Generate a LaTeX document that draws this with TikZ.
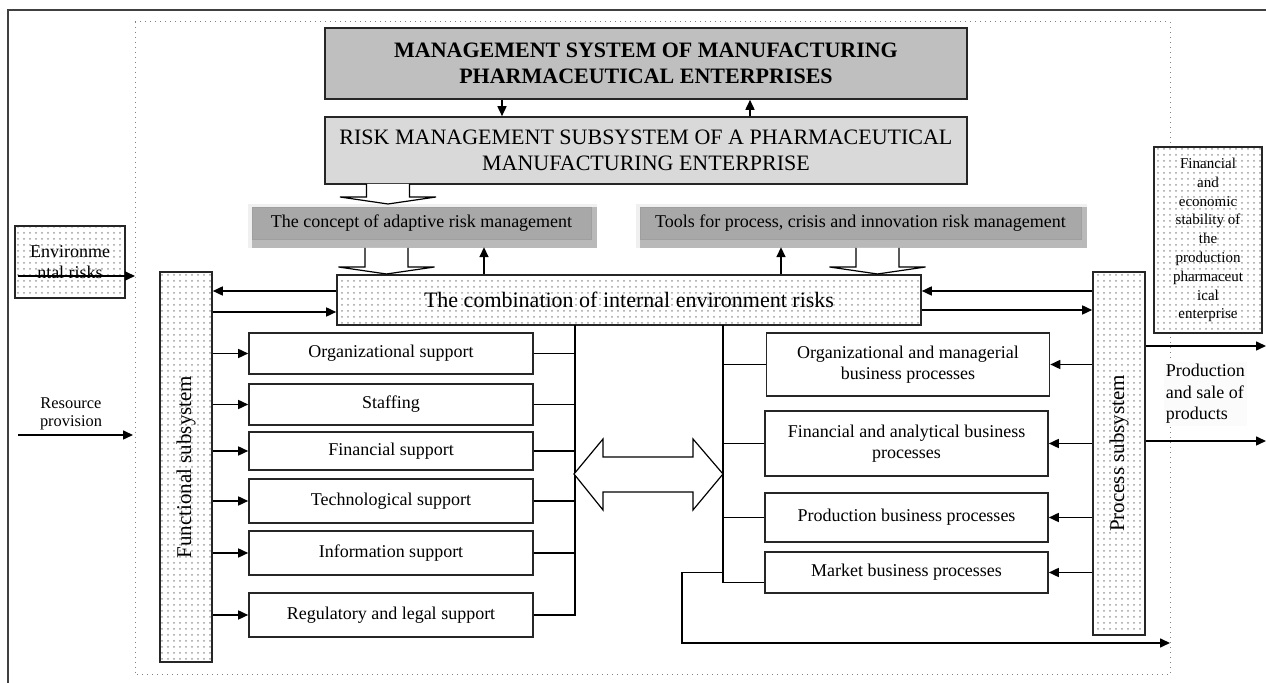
\documentclass[tikz,border=0pt]{standalone}
\usepackage{fontspec}
\setmainfont{Liberation Serif}
\usetikzlibrary{arrows.meta,patterns,backgrounds}

\tikzset{
  pics/blockdown/.style={code={
    \draw[fill=white,line width=.6pt] (-21.5,0) -- (-21.5,#1) -- (-48,#1) -- (0,#1+7)
      -- (48,#1) -- (21.5,#1) -- (21.5,0);
  }}
}

\begin{document}
\begin{tikzpicture}[x=.5pt,y=-.5pt,>={Triangle[length=5pt,width=4.5pt]},line width=.8pt,
  box/.style={draw=black!85,line width=.8pt,inner sep=0pt,align=center},
  headbox/.style={box,minimum width=321pt,font=\fontsize{11}{13}\selectfont},
  toolbox/.style={draw=gray!75,line width=.4pt,fill=gray!68,inner sep=0pt,minimum height=16pt,
    font=\fontsize{9}{10.5}\selectfont},
  dotbox/.style={box,preaction={fill=white},pattern=dots,pattern color=gray!75},
  supbox/.style={box,minimum width=142pt,font=\fontsize{9}{10.5}\selectfont},
  procbox/.style={box,minimum width=141.5pt,font=\fontsize{9}{10.5}\selectfont},
  subsys/.style={dotbox,minimum width=26pt,font=\fontsize{10.5}{12}\selectfont}]
\useasboundingbox (0,0) rectangle (1266,683);

% frames
\draw[black!75,line width=.8pt] (8,683) -- (8,10) -- (1266,10);
\draw[gray,dotted,line width=.5pt] (135,22) rectangle (1170,675);

% management levels
\node[headbox,fill=gray!50,minimum height=35.5pt,font=\fontsize{11}{13}\selectfont\bfseries] (mgmt) at (646,63.5)
  {MANAGEMENT SYSTEM OF MANUFACTURING\\PHARMACEUTICAL ENTERPRISES};
\node[headbox,fill=gray!30,minimum height=33.5pt] (risk) at (646,150.5)
  {RISK MANAGEMENT SUBSYSTEM OF A PHARMACEUTICAL\\MANUFACTURING ENTERPRISE};
\draw[->] ([xshift=-72pt]mgmt.south) -- ([xshift=-72pt]risk.north);
\draw[->] ([xshift=52pt]risk.north) -- ([xshift=52pt]mgmt.south);

\node[toolbox,minimum width=169.5pt] (concept) at (421.5,223) {The concept of adaptive risk management};
\node[toolbox,minimum width=220.5pt] (tools) at (860.5,223) {Tools for process, crisis and innovation risk management};
\begin{scope}[on background layer]
\foreach \b in {concept,tools} {
  \fill[gray!12] ([shift={(-4,-3)}]\b.north west) rectangle ([shift={(6,9)}]\b.south east);
  \fill[gray!55] (\b.south west) rectangle ([shift={(6,9)}]\b.south east);
  \fill[gray!55] (\b.north east) rectangle ([shift={(6,9)}]\b.south east);
}
\end{scope}

\node[dotbox,minimum width=292pt,minimum height=25pt,font=\fontsize{11}{13}\selectfont] (comb) at (629,300)
  {The combination of internal environment risks};

% block arrows
\pic at (388,184) {blockdown=13};
\pic at (386.5,248) {blockdown=19};
\pic at (877.5,248) {blockdown=19};
\draw[->] ([xshift=-72.5pt]comb.north) -- ++(0,-27);
\draw[->] ([xshift=76pt]comb.north) -- ++(0,-27);

% subsystems
\node[subsys,minimum height=195pt] (func) at (186,467) {\rotatebox{90}{Functional subsystem}};
\node[subsys,minimum height=181.5pt] (proc) at (1119,453.5) {\rotatebox{90}{Process subsystem}};

\coordinate (cl1) at ([yshift=4.5pt]comb.west);
\coordinate (cl2) at ([yshift=-6pt]comb.west);
\coordinate (cr1) at ([yshift=4.5pt]comb.east);
\coordinate (cr2) at ([yshift=-5pt]comb.east);
\draw[->] (cl1) -- (cl1 -| func.east);
\draw[->] (cl2 -| func.east) -- (cl2);
\draw[->] (cr1 -| proc.west) -- (cr1);
\draw[->] (cr2) -- (cr2 -| proc.west);

% functional support
\node[supbox,minimum height=20.5pt] (org) at (391,353.5) {Organizational support};
\node[supbox,minimum height=20.5pt] (staff) at (391,404.5) {Staffing};
\node[supbox,minimum height=19pt] (fin) at (391,451) {Financial support};
\node[supbox,minimum height=22pt] (tech) at (391,501) {Technological support};
\node[supbox,minimum height=22pt] (info) at (391,553) {Information support};
\node[supbox,minimum height=22pt] (reg) at (391,615) {Regulatory and legal support};

\coordinate (lbus) at (575,325);
\foreach \n in {org,staff,fin,tech,info,reg}
  \draw[->] (func.east |- \n.west) -- (\n.west);
\foreach \n in {org,staff,fin,tech,info}
  \draw (\n.east) -- (\n.east -| lbus);
\draw (lbus) |- (reg.east);

% business processes
\node[procbox,minimum height=31.5pt] (orgman) at (908,364.5) {Organizational and managerial\\business processes};
\node[procbox,minimum height=32.5pt] (finan) at (906.5,443.5) {Financial and analytical business\\processes};
\node[procbox,minimum height=24.5pt] (prod) at (906.5,517.5) {Production business processes};
\node[procbox,minimum height=20.5pt] (mkt) at (906.5,572.5) {Market business processes};

\coordinate (rbus) at (723,325);
\foreach \n in {orgman,finan,prod,mkt}
  \draw[->] (proc.west |- \n.east) -- (\n.east);
\foreach \n in {orgman,finan,prod}
  \draw (\n.west) -- (\n.west -| rbus);
\draw (rbus) |- ([yshift=-5pt]mkt.west);

\draw[fill=white,line width=.6pt] (574,474) -- (603,439) -- (603,457) -- (693,457) -- (693,439) -- (723,474)
  -- (693,510) -- (693,492) -- (603,492) -- (603,510) -- cycle;

\coordinate (fbturn) at (682,643);
\coordinate (fbout) at (1170,643);
\draw[->] (mkt.west -| rbus) -| (fbturn) -- (fbout);

% environment
\node[dotbox,minimum width=55pt,minimum height=36pt,font=\fontsize{9}{10.5}\selectfont] (env) at (70,262)
  {Environme\\ntal risks};
\coordinate (envin) at (18,276);
\coordinate (envout) at (135,276);
\draw[->] (envin) -- (envout);

\node[align=center,font=\fontsize{8.2}{9}\selectfont] (res) at (71,414) {Resource\\provision};
\coordinate (resin) at (18,435);
\coordinate (resout) at (133,435);
\draw[->] (resin) -- (resout);

\node[dotbox,minimum width=54pt,minimum height=93pt,font=\fontsize{7.5}{9.4}\selectfont] (stab) at (1208,240)
  {Financial\\and\\economic\\stability of\\the\\production\\pharmaceut\\ical\\enterprise};

\node[align=left,anchor=west,fill=gray!3,inner sep=1pt,font=\fontsize{9}{10.75}\selectfont] (sale) at (1163,394)
  {Production\\and sale of\\products};
\coordinate (out1) at (1266,346);
\coordinate (out2) at (1266,441);
\draw[->] (proc.east |- out1) -- (out1);
\draw[->] (proc.east |- out2) -- (out2);
\end{tikzpicture}
\end{document}
